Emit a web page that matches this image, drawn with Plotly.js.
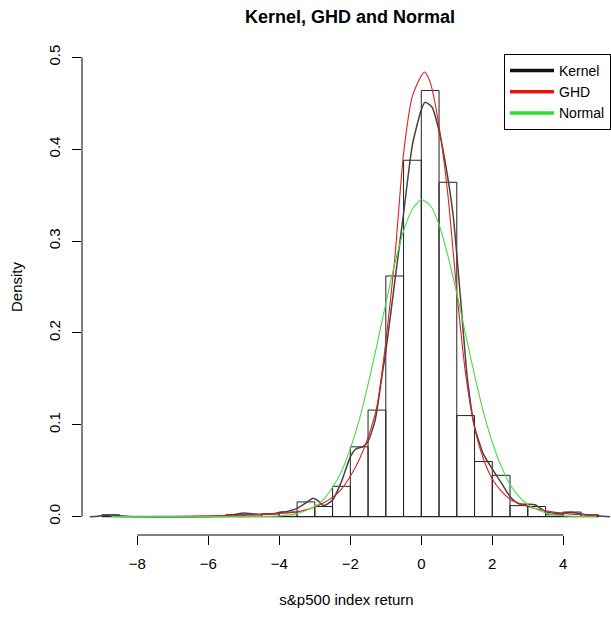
<!DOCTYPE html>
<html>
<head>
<meta charset="utf-8">
<script src="https://cdn.plot.ly/plotly-3.0.1.min.js"></script>
<style>html,body{margin:0;padding:0;background:#fff;}#chart{width:611px;height:617px;}</style>
</head>
<body>
<div id="chart"></div>
<script>
// Histogram (density scale), bins of width 0.5
var binStarts = [-9, -8.5, -8, -7.5, -7, -6.5, -6, -5.5, -5, -4.5, -4, -3.5, -3, -2.5, -2, -1.5, -1, -0.5, 0, 0.5, 1, 1.5, 2, 2.5, 3, 3.5, 4, 4.5];
var binDensity = [0.002, 0, 0, 0, 0, 0, 0, 0.002, 0.002, 0.003, 0.005, 0.016, 0.011, 0.033, 0.076, 0.116, 0.262, 0.388, 0.464, 0.364, 0.110, 0.060, 0.045, 0.012, 0.011, 0.002, 0.005, 0.002];
var binWidth = 0.5;

// Kernel density estimate
var kernelX = [-9.34, -9.1, -8.9, -8.75, -8.6, -8.4, -8.2, -7, -6, -5.5, -5.25, -5, -4.75, -4.5, -4.25, -4, -3.75, -3.5, -3.25, -3.05, -2.9, -2.75, -2.5, -2.25, -2, -1.85, -1.65, -1.5, -1.3, -1.1, -1, -0.75, -0.5, -0.25, 0, 0.1, 0.3, 0.5, 0.7, 0.9, 1.1, 1.3, 1.5, 1.75, 2, 2.25, 2.5, 2.75, 3, 3.2, 3.5, 3.75, 4, 4.2, 4.5, 4.75, 5, 5.32];
var kernelY = [0, 0.0005, 0.0015, 0.0018, 0.0015, 0.0006, 0.0001, 0, 0.0002, 0.0012, 0.0025, 0.004, 0.003, 0.0025, 0.003, 0.0045, 0.006, 0.009, 0.015, 0.020, 0.017, 0.012, 0.018, 0.038, 0.065, 0.0735, 0.076, 0.082, 0.105, 0.155, 0.18, 0.255, 0.33, 0.405, 0.443, 0.451, 0.446, 0.42, 0.38, 0.327, 0.24, 0.15, 0.098, 0.068, 0.052, 0.037, 0.022, 0.014, 0.0135, 0.013, 0.0055, 0.0038, 0.0038, 0.0048, 0.003, 0.0015, 0.0008, 0];

// Generalized hyperbolic density
var ghdX = [-8.7, -8, -7, -6, -5, -4.5, -4, -3.5, -3, -2.75, -2.5, -2.25, -2, -1.75, -1.5, -1.25, -1, -0.75, -0.5, -0.25, 0, 0.1, 0.25, 0.5, 0.75, 1, 1.25, 1.5, 1.75, 2, 2.25, 2.5, 2.75, 3, 3.5, 4, 4.5, 4.94];
var ghdY = [0.0001, 0.0002, 0.0004, 0.0008, 0.0015, 0.0022, 0.0033, 0.0052, 0.0105, 0.015, 0.021, 0.030, 0.044, 0.062, 0.086, 0.12, 0.19, 0.28, 0.395, 0.458, 0.48, 0.484, 0.473, 0.425, 0.35, 0.245, 0.155, 0.097, 0.063, 0.041, 0.028, 0.019, 0.0145, 0.011, 0.0063, 0.0035, 0.002, 0.0014];

// Normal density
var normX = [-8.73, -6, -5, -4.5, -4, -3.5, -3, -2.75, -2.5, -2.25, -2, -1.75, -1.5, -1.25, -1, -0.75, -0.5, -0.25, 0, 0.25, 0.5, 0.75, 1, 1.25, 1.5, 1.75, 2, 2.25, 2.5, 2.75, 3, 3.5, 4, 4.5, 4.94];
var normY = [0, 0, 0.00003, 0.0002, 0.0008, 0.0033, 0.011, 0.019, 0.032, 0.049, 0.074, 0.105, 0.144, 0.187, 0.232, 0.275, 0.311, 0.335, 0.345, 0.339, 0.318, 0.284, 0.243, 0.198, 0.154, 0.114, 0.081, 0.055, 0.035, 0.022, 0.013, 0.004, 0.001, 0.0002, 0.00005];

var xTicks = [-8, -6, -4, -2, 0, 2, 4];
var yTicks = [0, 0.1, 0.2, 0.3, 0.4, 0.5];
var legendNames = ['Kernel', 'GHD', 'Normal'];
var seriesColors = ['#111111', '#ee1111', '#33dd33'];

var FONT = 'Liberation Sans, Arial, Helvetica, sans-serif';
var binEnd = binStarts[binStarts.length - 1] + binWidth;

var traces = [
  {
    type: 'bar', x: binStarts, y: binDensity, width: binWidth, offset: 0,
    marker: {color: 'rgba(255,255,255,0)', line: {color: '#222', width: 1}},
    showlegend: false, hoverinfo: 'x+y'
  },
  {
    type: 'scatter', mode: 'lines', x: [binStarts[0], binEnd], y: [0, 0],
    line: {color: '#222', width: 1}, showlegend: false, hoverinfo: 'skip'
  },
  {
    type: 'scatter', mode: 'lines', x: kernelX, y: kernelY,
    line: {color: '#444', width: 1.5, shape: 'spline', smoothing: 0.6}, showlegend: false
  },
  {
    type: 'scatter', mode: 'lines', x: ghdX, y: ghdY,
    line: {color: '#e02020', width: 1.1, shape: 'spline', smoothing: 0.6}, showlegend: false
  },
  {
    type: 'scatter', mode: 'lines', x: normX, y: normY,
    line: {color: '#44dd44', width: 1.1, shape: 'spline', smoothing: 0.6}, showlegend: false
  }
];
for (var i = 0; i < legendNames.length; i++) {
  traces.push({type: 'scatter', mode: 'lines', x: [null], y: [null], name: legendNames[i],
    line: {color: seriesColors[i], width: 3.5}, showlegend: true, hoverinfo: 'skip'});
}

var layout = {
  width: 611, height: 617,
  margin: {l: 82, r: 0, t: 39, b: 82, autoexpand: false},
  paper_bgcolor: '#fff', plot_bgcolor: '#fff',
  font: {family: FONT, size: 15, color: '#000'},
  title: {text: '<b>Kernel, GHD and Normal</b>', font: {family: FONT, size: 18, color: '#000'},
          x: (350 - 82) / 529, xref: 'paper', xanchor: 'center', y: 1 - 17 / 617, yref: 'container', yanchor: 'middle'},
  bargap: 0,
  xaxis: {
    range: [-9.56, 5.345], showgrid: false, zeroline: false, showline: false,
    tickmode: 'array', tickvals: xTicks, ticks: 'outside', ticklen: 9, tickwidth: 1, tickcolor: '#000',
    ticklabelstandoff: 6,
    tickfont: {family: FONT, size: 15, color: '#000'},
    title: {text: 's&p500 index return', font: {family: FONT, size: 15, color: '#000'}, standoff: 23}
  },
  yaxis: {
    range: [-0.02, 0.52], showgrid: false, zeroline: false, showline: false,
    tickmode: 'array', tickvals: yTicks, tickformat: '.1f', ticks: 'outside', ticklen: 9, tickwidth: 1, tickcolor: '#000',
    tickangle: -90, ticklabelstandoff: 6,
    tickfont: {family: FONT, size: 15, color: '#000'},
    title: {text: 'Density', font: {family: FONT, size: 15, color: '#000'}, standoff: 19}
  },
  shapes: [
    {type: 'line', xref: 'paper', yref: 'y', x0: 0, x1: 0, y0: yTicks[0], y1: yTicks[yTicks.length - 1], line: {color: '#000', width: 1}},
    {type: 'line', xref: 'x', yref: 'paper', x0: xTicks[0], x1: xTicks[xTicks.length - 1], y0: 0, y1: 0, line: {color: '#000', width: 1}}
  ],
  legend: {
    x: (504 - 82) / 529, y: (535 - 54) / 496, xanchor: 'left', yanchor: 'top',
    bgcolor: '#fff', bordercolor: '#000', borderwidth: 1,
    font: {family: FONT, size: 14, color: '#000'}, itemwidth: 44,
    tracegroupgap: 0
  },
  showlegend: true
};

Plotly.newPlot('chart', traces, layout, {displayModeBar: false, staticPlot: true});
</script>
</body>
</html>
